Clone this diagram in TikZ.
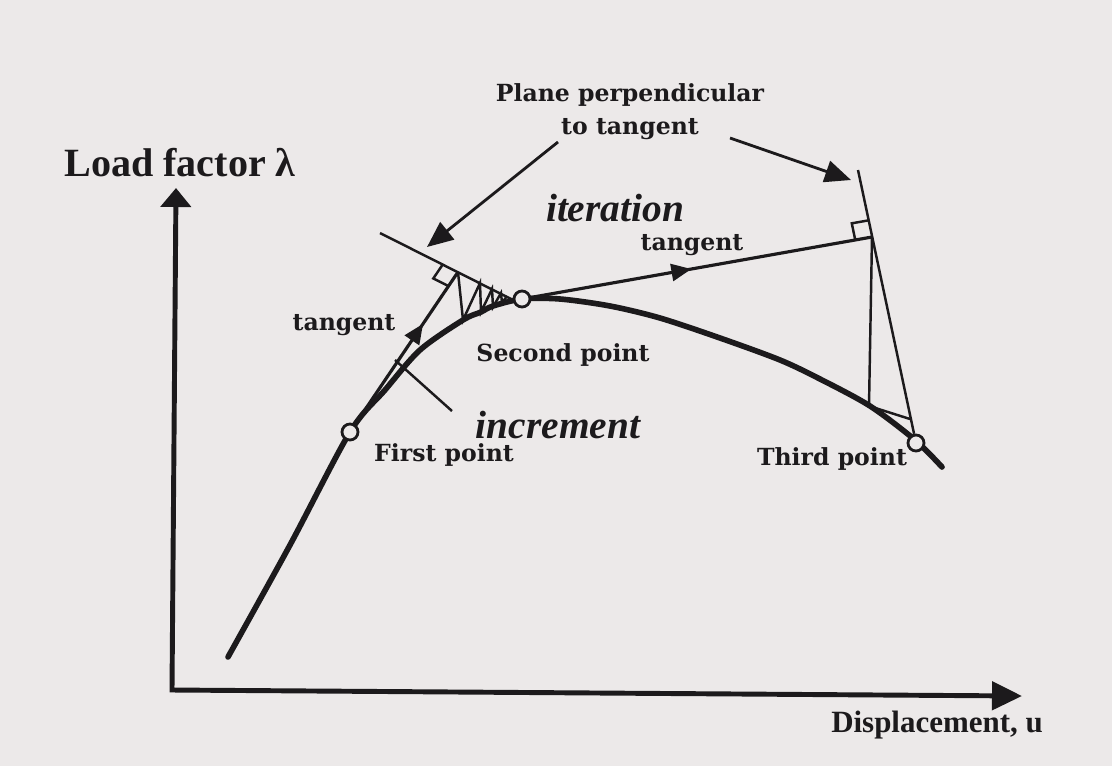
\documentclass[tikz,border=0pt]{standalone}
\usepackage{fontspec}
\setmainfont{Liberation Serif}
\newfontfamily\lblfont{DejaVu Serif}
\usetikzlibrary{arrows.meta,calc,decorations.markings}
\definecolor{paper}{RGB}{236,233,233}
\definecolor{ink}{RGB}{28,26,28}
\begin{document}
\begin{tikzpicture}[x=0.01cm,y=-0.01cm,
  axis/.style={ink,line width=1.4pt},
  loadpath/.style={ink,line width=1.6pt,line cap=round},
  tanline/.style={ink,line width=0.9pt,postaction={decorate},
    decoration={markings,mark=at position #1 with {\arrow{Triangle[length=0.2cm,width=0.17cm]}}}},
  thinline/.style={ink,line width=0.7pt},
  pointer/.style={ink,line width=0.8pt,-{Triangle[length=0.26cm,width=0.22cm]}},
  pt/.style={circle,draw=ink,fill=paper,line width=0.8pt,minimum size=0.16cm,inner sep=0pt},
  lbl/.style={font=\lblfont\bfseries\fontsize{6.7}{9.4}\selectfont,text=ink,inner sep=0pt},
  big/.style={font=\bfseries\itshape\fontsize{11.2}{13}\selectfont,text=ink,inner sep=0pt}]
  \fill[paper] (0,0) rectangle (1112,766);
  \useasboundingbox (0,0) rectangle (1112,766);

  \coordinate (org) at (172,690);
  \coordinate (ytip) at (176,188);
  \coordinate (xtip) at (1022,696);
  \draw[axis,{Triangle[length=0.19cm,width=0.3cm]}-{Triangle[length=0.3cm,width=0.28cm]}]
    (ytip) -- (org) -- (xtip);

  \draw[loadpath] plot[smooth,tension=0.5] coordinates {(228,657) (290,545) (350,432)
    (385,390) (420,350) (463,320) (481,312) (493,306) (522,299) (560,299) (610,306)
    (660,318) (720,338) (780,360) (820,379) (870,406) (915,440) (942,467)};

  \node[pt] (first) at (350,432) {};
  \node[pt] (second) at (522,299) {};
  \node[pt] (third) at (916,443) {};

  \coordinate (pl1a) at (380,233);
  \coordinate (pl1b) at (513,300);
  \coordinate (P0) at (458,272);
  \draw[thinline] (pl1a) -- (pl1b);
  \draw[tanline=0.66] (first) -- (P0);
  \draw[thinline] (P0) -- (463,320) -- (480,283) -- (481,312) -- (492,289)
    -- (493,307) -- (501,293) -- (502,303) -- (507,296);
  \coordinate (s1) at ($(P0)!0.17cm!(pl1a)$);
  \coordinate (s2) at ($(P0)!0.17cm!(first)$);
  \draw[thinline] (s1) -- ($(s1)+(s2)-(P0)$) -- (s2);

  \coordinate (pl2a) at (858,170);
  \coordinate (Q0) at (872,237);
  \coordinate (D1) at (869,406);
  \coordinate (Q1) at (910,419);
  \draw[thinline] (pl2a) -- (third);
  \draw[tanline=0.47] (second) -- (Q0);
  \draw[thinline] (Q0) -- (D1) -- (Q1);
  \coordinate (r1) at ($(Q0)!0.17cm!(second)$);
  \coordinate (r2) at ($(Q0)!0.17cm!(pl2a)$);
  \draw[thinline] (r1) -- ($(r1)+(r2)-(Q0)$) -- (r2);

  \node[font=\bfseries\fontsize{11.4}{13}\selectfont,text=ink,inner sep=0pt] (ylab) at (180,163) {Load factor λ};
  \node[font=\bfseries\fontsize{8.8}{10}\selectfont,text=ink,inner sep=0pt] (xlab) at (937,725) {Displacement, u};

  \node[lbl,align=center] (plane) at (630,112) {Plane perpendicular\\to tangent};
  \coordinate (pa) at (558,142);
  \coordinate (pb) at (730,138);
  \draw[pointer] (pa) -- (427,247);
  \draw[pointer] (pb) -- (851,180);

  \node[big] (iter) at (615,208) {iteration};
  \node[big] (incr) at (558,425) {increment};
  \coordinate (ia) at (395,360);
  \coordinate (ib) at (452,411);
  \draw[thinline] (ia) -- (ib);

  \node[lbl] (tanR) at (692,245) {tangent};
  \node[lbl] (tanL) at (344,325) {tangent};
  \node[lbl] (secl) at (563,355) {Second point};
  \node[lbl] (firl) at (444,455) {First point};
  \node[lbl] (thil) at (832,459) {Third point};
\end{tikzpicture}
\end{document}
